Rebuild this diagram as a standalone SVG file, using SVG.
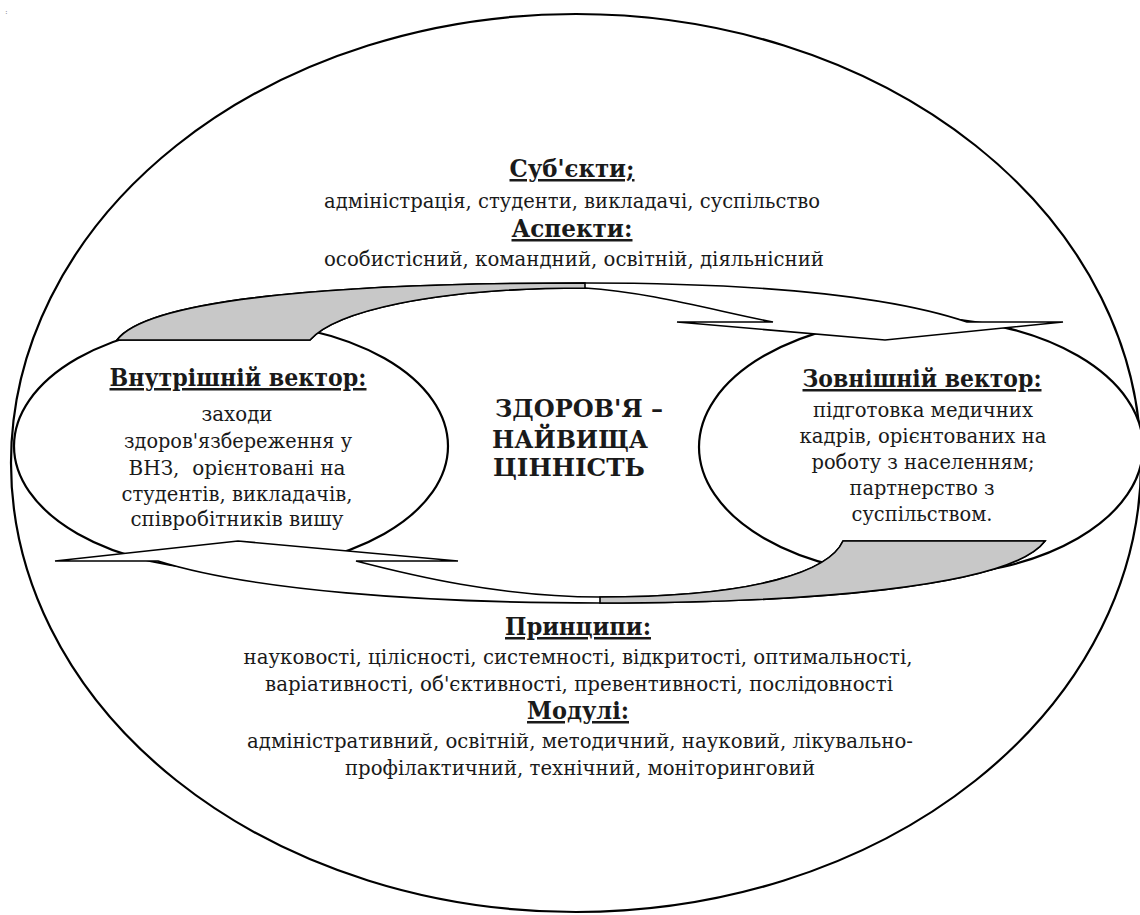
<svg xmlns="http://www.w3.org/2000/svg" width="1140" height="915" viewBox="0 0 1140 915">
<style>
.el{fill:#fff;stroke:#000;stroke-width:2.2}
.band{fill:#fff;stroke:#000;stroke-width:1.6;stroke-linejoin:miter}
.shade{fill:#c8c8c8;stroke:#000;stroke-width:1.6}
.t{font-family:"DejaVu Serif","Liberation Serif",serif;fill:#1a1a1a;text-anchor:middle}
.h{font-weight:bold;font-size:25px;text-decoration:underline}
.b{font-size:21px}
.c{font-weight:bold;font-size:25px}
</style>
<rect width="1140" height="915" fill="#fff"/>
<text class="t" x="5" y="14" style="font-size:8px;text-anchor:start;fill:#777">:</text>
<g id="outer">
<ellipse class="el" cx="576" cy="463" rx="565" ry="449"/>
</g>
<g id="node-top" class="t">
<text class="t h" x="572" y="177" textLength="125" lengthAdjust="spacingAndGlyphs">Суб'єкти;</text>
<text class="t b" x="572" y="208" textLength="496" lengthAdjust="spacingAndGlyphs">адміністрація, студенти, викладачі, суспільство</text>
<text class="t h" x="572" y="237" textLength="121" lengthAdjust="spacingAndGlyphs">Аспекти:</text>
<text class="t b" x="574" y="266" textLength="500" lengthAdjust="spacingAndGlyphs">особистісний, командний, освітній, діяльнісний</text>
</g>
<g id="node-left">
<ellipse class="el" cx="231" cy="446" rx="217" ry="124"/>
<text class="t h" x="238" y="386" textLength="257" lengthAdjust="spacingAndGlyphs">Внутрішній вектор:</text>
<text class="t b" x="237" y="421" textLength="71" lengthAdjust="spacingAndGlyphs">заходи</text>
<text class="t b" x="238" y="448" textLength="228" lengthAdjust="spacingAndGlyphs">здоров'язбереження у</text>
<text class="t b" x="237" y="475" textLength="217" lengthAdjust="spacingAndGlyphs" xml:space="preserve">ВНЗ,  орієнтовані на</text>
<text class="t b" x="237" y="501" textLength="231" lengthAdjust="spacingAndGlyphs">студентів, викладачів,</text>
<text class="t b" x="237" y="526" textLength="213" lengthAdjust="spacingAndGlyphs">співробітників вишу</text>
</g>
<g id="node-right">
<ellipse class="el" cx="921" cy="447" rx="222" ry="129"/>
<text class="t h" x="922" y="387" textLength="239" lengthAdjust="spacingAndGlyphs">Зовнішній вектор:</text>
<text class="t b" x="923" y="417" textLength="220" lengthAdjust="spacingAndGlyphs">підготовка медичних</text>
<text class="t b" x="923" y="443" textLength="247" lengthAdjust="spacingAndGlyphs">кадрів, орієнтованих на</text>
<text class="t b" x="923" y="469" textLength="223" lengthAdjust="spacingAndGlyphs">роботу з населенням;</text>
<text class="t b" x="922" y="495" textLength="145" lengthAdjust="spacingAndGlyphs">партнерство з</text>
<text class="t b" x="922" y="521" textLength="141" lengthAdjust="spacingAndGlyphs">суспільством.</text>
</g>
<g id="node-center">
<text class="t c" x="579" y="417" textLength="168" lengthAdjust="spacingAndGlyphs">ЗДОРОВ'Я –</text>
<text class="t c" x="570" y="448" textLength="156" lengthAdjust="spacingAndGlyphs">НАЙВИЩА</text>
<text class="t c" x="569" y="476" textLength="152" lengthAdjust="spacingAndGlyphs">ЦІННІСТЬ</text>
</g>
<g id="node-bottom">
<text class="t h" x="578" y="635" textLength="146" lengthAdjust="spacingAndGlyphs">Принципи:</text>
<text class="t b" x="578" y="664" textLength="669" lengthAdjust="spacingAndGlyphs">науковості, цілісності, системності, відкритості, оптимальності,</text>
<text class="t b" x="579" y="691" textLength="628" lengthAdjust="spacingAndGlyphs">варіативності, об'єктивності, превентивності, послідовності</text>
<text class="t h" x="578" y="719" textLength="102" lengthAdjust="spacingAndGlyphs">Модулі:</text>
<text class="t b" x="580" y="748" textLength="666" lengthAdjust="spacingAndGlyphs">адміністративний, освітній, методичний, науковий, лікувально-</text>
<text class="t b" x="580" y="775" textLength="470" lengthAdjust="spacingAndGlyphs">профілактичний, технічний, моніторинговий</text>
</g>
<g id="connectors">
<g id="arrow-top">
<path class="band" d="M117,340 C150,296 360,283 585,283 C760,283 890,296 967,322 L1063,322 L885,340 L677,322 L773,322 C720,312 650,292 585,288 C430,288 335,312 310,340 Z"/>
<path class="shade" d="M117,340 C150,296 360,283 585,283 L585,288 C430,288 335,312 310,340 Z"/>
</g>
<g id="arrow-bottom">
<path class="band" d="M1045,541 C1010,588 800,603 600,603 C420,603 250,590 158,561 L55,561 L238,541 L458,561 L356,561 C410,575 500,597 600,597 C760,597 830,570 843,541 Z"/>
<path class="shade" d="M1045,541 C1010,588 800,603 600,603 L600,597 C760,597 830,570 843,541 Z"/>
</g>
</g>
</svg>
